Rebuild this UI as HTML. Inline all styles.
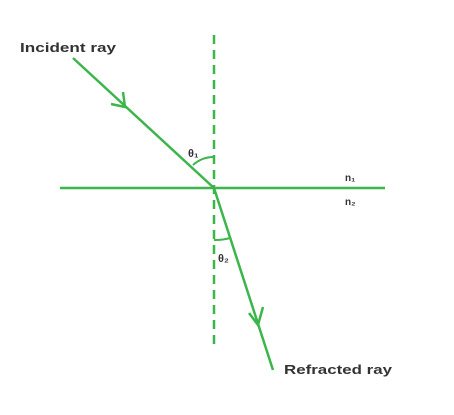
<!DOCTYPE html>
<html><head><meta charset="utf-8"><style>
html,body{margin:0;padding:0;background:#fff;width:454px;height:415px;overflow:hidden}
text{font-family:"Liberation Sans",sans-serif;fill:#333;font-weight:bold}
</style></head><body>
<svg width="454" height="415" viewBox="0 0 454 415">
<g stroke="#3cb54a" stroke-width="2.5" fill="none">
<line x1="214" y1="35" x2="214" y2="345" stroke-dasharray="9,6"/>
<line x1="60" y1="188" x2="385" y2="188"/>
<line x1="73" y1="58" x2="214" y2="188"/>
<polyline points="123,92 125,107 111,104"/>
<line x1="214" y1="188" x2="273" y2="370"/>
<polyline points="249,313 258,325 263,307"/>
<path d="M214,157 A31,31 0 0 0 193,165" stroke-width="2"/>
<path d="M214,240 A52,52 0 0 0 230,238" stroke-width="2"/>
</g>
<text x="20" y="52" font-size="13" textLength="96" lengthAdjust="spacingAndGlyphs">Incident ray</text>
<text x="284" y="374" font-size="13" textLength="108" lengthAdjust="spacingAndGlyphs">Refracted ray</text>
<text x="188" y="157" font-size="11">θ₁</text>
<text x="218" y="262" font-size="11">θ₂</text>
<text x="345" y="181" font-size="10">n₁</text>
<text x="345" y="205" font-size="10">n₂</text>
</svg>
</body></html>
